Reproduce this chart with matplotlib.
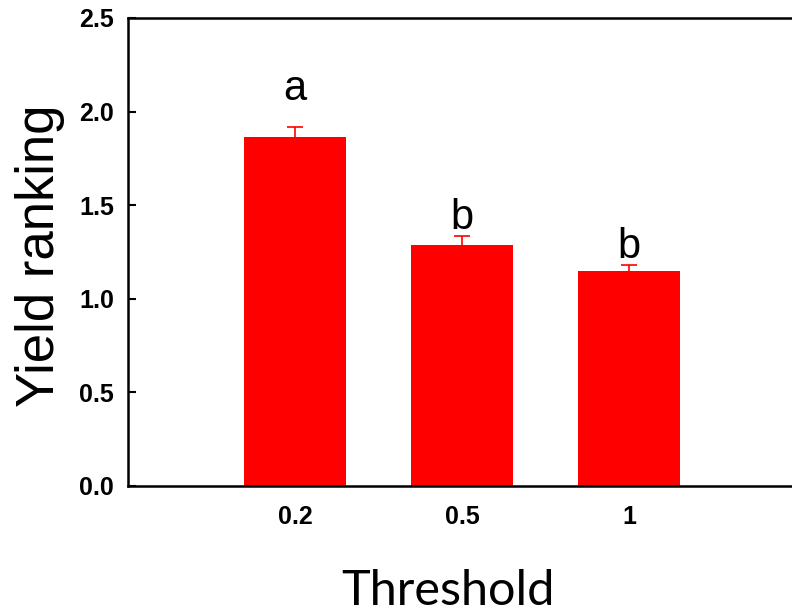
import matplotlib
matplotlib.use('Agg')
import matplotlib.pyplot as plt

thresholds = ['0.2', '0.5', '1']
yield_rank = [1.865, 1.287, 1.147]
yield_err = [0.052, 0.047, 0.033]
letters = ['a', 'b', 'b']
letter_y = [2.062, 1.373, 1.218]

fig = plt.figure(figsize=(7.92, 6.12), dpi=100)
ax = fig.add_axes([0.1616, 0.2059, 0.8434, 0.7647])

x = range(len(thresholds))
# error bars sit behind the bars, so only the upper half shows
ax.errorbar(x, yield_rank, yerr=yield_err, fmt='none',
            ecolor='#ff0000', elinewidth=1.2, capsize=5.5, capthick=1.2, zorder=1)
ax.bar(x, yield_rank, width=0.61, color='#ff0000', zorder=2)

for i, (lab, ly) in enumerate(zip(letters, letter_y)):
    ax.text(i, ly, lab, ha='center', va='baseline', fontsize=30,
            family='Liberation Sans')

ax.set_xlim(-1.0, 3.0)
ax.set_ylim(0, 2.5)
ax.set_xticks(list(x))
ax.set_xticklabels(thresholds)
ax.set_yticks([0, 0.5, 1.0, 1.5, 2.0, 2.5])
ax.set_yticklabels(['0.0', '0.5', '1.0', '1.5', '2.0', '2.5'])
for lab in ax.get_xticklabels() + ax.get_yticklabels():
    lab.set_family('Liberation Sans')
    lab.set_fontweight('bold')
    lab.set_fontsize(18)
ax.tick_params(axis='y', direction='in', length=6, width=1.5, pad=10)
ax.tick_params(axis='x', length=0, pad=14)

for side in ['left', 'bottom', 'top']:
    ax.spines[side].set_linewidth(1.8)
ax.spines['right'].set_visible(False)

fig.text(0.051, 0.582, 'Yield ranking', rotation=90, ha='center', va='center',
         fontsize=38, family='Liberation Sans')
fig.text(0.565, 0.035, 'Threshold', ha='center', va='center',
         fontsize=35, family='Lato')

fig.savefig('out.png', dpi=100)
